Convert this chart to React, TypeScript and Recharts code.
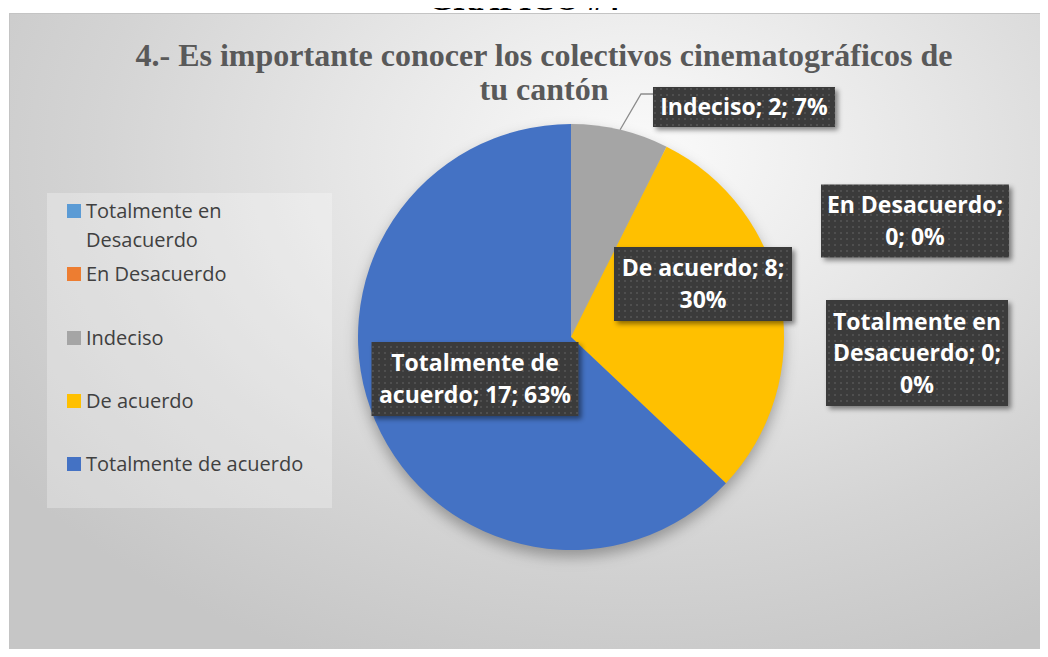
import { PieChart, Pie, Cell } from 'recharts';

const categories = ['Totalmente en Desacuerdo', 'En Desacuerdo', 'Indeciso', 'De acuerdo', 'Totalmente de acuerdo'];
const counts = [0, 0, 2, 8, 17];
const colors = ['#5B9BD5', '#ED7D31', '#A5A5A5', '#FFC000', '#4472C4'];

const chartTitle = ['4.- Es importante conocer los colectivos cinematográficos de', 'tu cantón'];
const figureCaption = 'GRÁFICO #4';

// label box placement, relative to the pie centre (Excel labels were moved by hand)
const labelLayout = [
  { dx: 346, dy: 16, w: 182, h: 106, maxChars: 14 },
  { dx: 344, dy: -116, w: 188, h: 73, maxChars: 15 },
  { dx: 173, dy: -230, w: 182, h: 40, maxChars: 20, leader: true },
  { dx: 132, dy: -53, w: 178, h: 74, maxChars: 14 },
  { dx: -96, dy: 42, w: 207, h: 74, maxChars: 16 },
];

const data = categories.map((name, i) => ({ name, value: counts[i] }));
const total = counts.reduce((a, b) => a + b, 0);

const W = 1036;
const H = 650;
const RAD = Math.PI / 180;

function wrap(text: string, maxChars: number) {
  const words = text.split(' ');
  const lines: string[] = [];
  let cur = '';
  words.forEach(w => {
    const next = cur ? cur + ' ' + w : w;
    if (next.length > maxChars && cur) {
      lines.push(cur);
      cur = w;
    } else {
      cur = next;
    }
  });
  if (cur) lines.push(cur);
  return lines;
}

function renderLabel(props: any) {
  const { cx, cy, midAngle, outerRadius, index, name, value } = props;
  const lay = labelLayout[index];
  if (!lay) return null;
  const pct = Math.round((value / total) * 100);
  const lines = wrap(`${name}; ${value}; ${pct}%`, lay.maxChars);
  const bx = cx + lay.dx - lay.w / 2;
  const by = cy + lay.dy - lay.h / 2;
  const lh = 31.5;
  const firstBase = cy + lay.dy - ((lines.length - 1) * lh) / 2 + 8;
  let leader = null;
  if (lay.leader) {
    const px = cx + outerRadius * Math.cos(-midAngle * RAD);
    const py = cy + outerRadius * Math.sin(-midAngle * RAD);
    const ey = by + 7;
    leader = (
      <polyline
        points={`${px},${py} ${bx - 12},${ey} ${bx},${ey}`}
        fill="none"
        stroke="#8c8c8c"
        strokeWidth={1.3}
      />
    );
  }
  return (
    <g key={`lbl-${index}`}>
      {leader}
      <rect x={bx} y={by} width={lay.w} height={lay.h} fill="url(#dots)" filter="url(#boxShadow)" />
      {lines.map((ln, i) => (
        <text
          key={i}
          x={cx + lay.dx}
          y={firstBase + i * lh}
          textAnchor="middle"
          fill="#ffffff"
          fontFamily="'Open Sans', sans-serif"
          fontWeight={700}
          fontSize={23}
        >
          {ln}
        </text>
      ))}
    </g>
  );
}

export default function App() {
  return (
    <div style={{ position: 'relative', width: 1048, height: 657, overflow: 'hidden', margin: -8 }}>
      <div
        style={{
          position: 'absolute',
          left: 0,
          right: 0,
          top: -18,
          textAlign: 'center',
          fontFamily: "'Liberation Serif', serif",
          fontWeight: 700,
          fontSize: 32,
          lineHeight: '34px',
          color: '#000',
        }}
      >
        {figureCaption}
      </div>
      <div
        style={{
          position: 'absolute',
          left: 9,
          top: 13,
          width: W,
          height: H,
          boxSizing: 'border-box',
          border: '1px solid #c4c4c4',
          background: 'radial-gradient(ellipse 75% 85% at 61% 22%, #fbfbfb 0%, #e6e6e6 38%, #d4d4d4 70%, #c6c6c6 100%)',
        }}
      >
        <div
          style={{
            position: 'absolute',
            left: 0,
            width: 1068,
            top: 24,
            textAlign: 'center',
            fontFamily: "'Liberation Serif', serif",
            fontWeight: 700,
            fontSize: 32,
            lineHeight: '34px',
            color: '#595959',
          }}
        >
          {chartTitle.map(t => (
            <div key={t}>{t}</div>
          ))}
        </div>

        <div
          style={{
            position: 'absolute',
            left: 37,
            top: 179,
            width: 285,
            height: 315,
            background: 'rgba(255,255,255,0.28)',
            fontFamily: "'Open Sans', sans-serif",
            fontSize: 20,
            lineHeight: '29px',
            color: '#404040',
            boxSizing: 'border-box',
            paddingTop: 3,
          }}
        >
          {categories.map((c, i) => (
            <div key={c} style={{ display: 'flex', alignItems: 'flex-start', height: 63.3 }}>
              <div
                style={{ width: 14, height: 14, background: colors[i], marginLeft: 20, marginTop: 8, marginRight: 5, flexShrink: 0 }}
              />
              <div style={{ width: i === 0 ? 200 : 260 }}>{c}</div>
            </div>
          ))}
        </div>

        <div style={{ position: 'absolute', left: 0, top: 0 }}>
          <PieChart width={W - 2} height={H - 2} margin={{ top: 0, right: 0, bottom: 0, left: 0 }}>
            <defs>
              <pattern id="dots" width="6" height="6" patternUnits="userSpaceOnUse">
                <rect width="6" height="6" fill="#3b3b3b" />
                <circle cx="3" cy="3" r="1" fill="#555555" />
              </pattern>
              <filter id="boxShadow" x="-10%" y="-10%" width="130%" height="140%">
                <feDropShadow dx="3" dy="3" stdDeviation="2.5" floodColor="#000" floodOpacity="0.45" />
              </filter>
              <filter id="pieShadow" x="-20%" y="-20%" width="140%" height="150%">
                <feGaussianBlur in="SourceAlpha" stdDeviation="7" />
                <feOffset dx="0" dy="7" result="b" />
                <feFlood floodColor="#000" floodOpacity="0.3" />
                <feComposite in2="b" operator="in" />
              </filter>
            </defs>
            <Pie
              data={[{ name: 'shadow', value: total }]}
              dataKey="value"
              cx={561}
              cy={323}
              outerRadius={213}
              startAngle={90}
              endAngle={-270}
              stroke="none"
              isAnimationActive={false}
              legendType="none"
            >
              <Cell fill="#000" filter="url(#pieShadow)" />
            </Pie>
            <Pie
              data={data}
              dataKey="value"
              nameKey="name"
              cx={561}
              cy={323}
              outerRadius={213}
              startAngle={90}
              endAngle={-270}
              stroke="none"
              label={renderLabel}
              labelLine={false}
              isAnimationActive={false}
            >
              {data.map((d, i) => (
                <Cell key={d.name} fill={colors[i]} />
              ))}
            </Pie>
          </PieChart>
        </div>
      </div>
    </div>
  );
}
